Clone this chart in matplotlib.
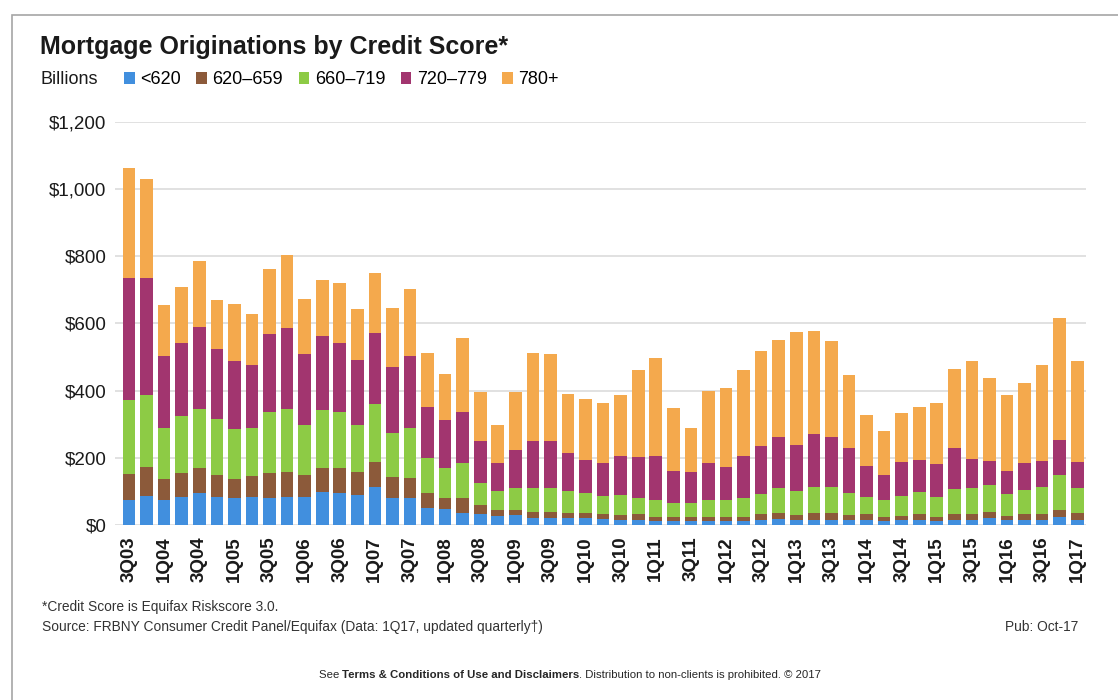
import matplotlib
matplotlib.use('Agg')
import matplotlib.pyplot as plt
import matplotlib.patches as mpatches
import matplotlib.ticker as mticker
import numpy as np

plt.rcParams['font.family'] = ['Liberation Sans', 'DejaVu Sans']

# quarters 3Q03 .. 1Q17
quarters = ['3Q03', '4Q03']
for yr in range(4, 17):
    quarters += [f'{q}Q{yr:02d}' for q in range(1, 5)]
quarters += ['1Q17']

series = ['<620', '620\u2013659', '660\u2013719', '720\u2013779', '780+']
colors = ['#418FDE', '#8C5A3A', '#8DCB45', '#A2356F', '#F4A94D']

# billions of dollars, per credit score band
below_620 = [74, 86, 74, 84, 96, 84, 81, 82, 81, 82,
             84, 99, 96, 89, 114, 81, 81, 50, 47, 37,
             32, 28, 30, 22, 22, 22, 20, 17, 15, 15,
             13, 12, 13, 13, 13, 13, 15, 17, 15, 15,
             15, 15, 15, 13, 15, 15, 13, 15, 15, 20,
             15, 15, 15, 25, 15]
s620_659 = [78, 86, 63, 70, 75, 65, 55, 64, 73, 77,
            65, 72, 75, 70, 74, 63, 60, 46, 32, 44,
            28, 17, 15, 18, 18, 15, 17, 15, 15, 17,
            12, 13, 10, 12, 12, 12, 17, 18, 15, 20,
            20, 15, 17, 12, 13, 18, 12, 18, 18, 18,
            13, 17, 18, 20, 20]
s660_719 = [220, 215, 153, 170, 173, 165, 150, 144, 183, 185,
            149, 171, 166, 139, 171, 131, 147, 104, 92, 103,
            66, 57, 66, 69, 71, 64, 57, 54, 59, 47,
            49, 39, 43, 49, 49, 54, 60, 74, 72, 77,
            79, 66, 52, 49, 59, 64, 59, 74, 76, 81,
            63, 72, 81, 104, 74]
s720_779 = [364, 349, 214, 217, 246, 210, 202, 186, 230, 241,
            211, 220, 206, 193, 211, 194, 215, 150, 141, 153,
            125, 82, 112, 142, 140, 112, 99, 98, 117, 124,
            131, 98, 93, 110, 98, 127, 143, 152, 136, 158,
            149, 132, 92, 75, 101, 97, 98, 121, 86, 71,
            70, 80, 77, 104, 78]
s780_plus = [325, 293, 151, 168, 196, 146, 170, 152, 194, 217,
             164, 167, 176, 151, 181, 176, 198, 163, 137, 219,
             146, 114, 174, 262, 257, 176, 182, 180, 181, 258,
             291, 185, 129, 216, 235, 255, 284, 290, 337, 307,
             285, 218, 151, 132, 144, 158, 182, 236, 293, 247,
             226, 240, 285, 362, 301]

data = [below_620, s620_659, s660_719, s720_779, s780_plus]

W, H = 1118, 700
fig = plt.figure(figsize=(W / 100, H / 100), dpi=100)

# outer frame
fig.patches.append(mpatches.Rectangle((12 / W, -0.1), 1.2, 1 - 15 / H + 0.1,
                                      transform=fig.transFigure, fill=False,
                                      edgecolor='#A6A6A6', lw=1.2))

ax = fig.add_axes([115 / W, 1 - 525 / H, (1086 - 115) / W, (525 - 121.7) / H])
x = np.arange(len(quarters))
bottom = np.zeros(len(quarters))
handles = []
for vals, name, c in zip(data, series, colors):
    vals = np.array(vals, dtype=float)
    b = ax.bar(x, vals, 0.72, bottom=bottom, color=c, label=name, zorder=3)
    handles.append(b)
    bottom += vals

ax.set_xlim(-0.8, len(quarters) - 0.5)
ax.set_ylim(0, 1200)
ax.yaxis.set_major_locator(mticker.MultipleLocator(200))
ax.yaxis.set_major_formatter(mticker.FuncFormatter(lambda v, p: f'${v:,.0f}'))
ax.grid(axis='y', color='#DCDCDC', lw=1.2, zorder=0)
for s in ax.spines.values():
    s.set_visible(False)
ax.tick_params(axis='y', length=0, pad=6, labelsize=13.5, labelcolor='#1A1A1A')
ax.set_xticks(x[::2])
ax.set_xticklabels(quarters[::2], rotation=90, fontsize=13.5, fontweight='bold',
                   color='#1A1A1A')
ax.tick_params(axis='x', length=0, pad=8)

fig.text(40 / W, 1 - 47 / H, 'Mortgage Originations by Credit Score*', fontsize=18,
         fontweight='bold', color='#1A1A1A', va='center', ha='left')
fig.text(40 / W, 1 - 80 / H, 'Billions', fontsize=13, color='#1A1A1A',
         va='center', ha='left')
fig.legend(handles=handles, labels=series, loc='center left',
           bbox_to_anchor=(124 / W, 1 - 80 / H), ncol=5, frameon=False,
           fontsize=13, handlelength=0.6, handleheight=0.6, handletextpad=0.3,
           columnspacing=0.85, borderaxespad=0, borderpad=0)

fig.text(42 / W, 1 - 607 / H, '*Credit Score is Equifax Riskscore 3.0.', fontsize=9.9,
         color='#333333', va='center', ha='left')
fig.text(42 / W, 1 - 627 / H,
         'Source: FRBNY Consumer Credit Panel/Equifax (Data: 1Q17, updated quarterly\u2020)',
         fontsize=9.9, color='#333333', va='center', ha='left')
fig.text(1078 / W, 1 - 627 / H, 'Pub: Oct-17', fontsize=9.9, color='#333333',
         va='center', ha='right')

# footer with a bold middle part
renderer = fig.canvas.get_renderer()
parts = [('See ', 'normal'), ('Terms & Conditions of Use and Disclaimers', 'bold'),
         ('. Distribution to non-clients is prohibited. \u00a9 2017', 'normal')]
texts = []
for s, wt in parts:
    t = fig.text(0, 1 - 675 / H, s, fontsize=8.2, fontweight=wt, color='#262626',
                 va='center', ha='left')
    texts.append(t)
widths = [t.get_window_extent(renderer).width for t in texts]
xpos = (570 - sum(widths) / 2)
for t, w in zip(texts, widths):
    t.set_x(xpos / W)
    xpos += w

fig.savefig('out.png', dpi=100)
